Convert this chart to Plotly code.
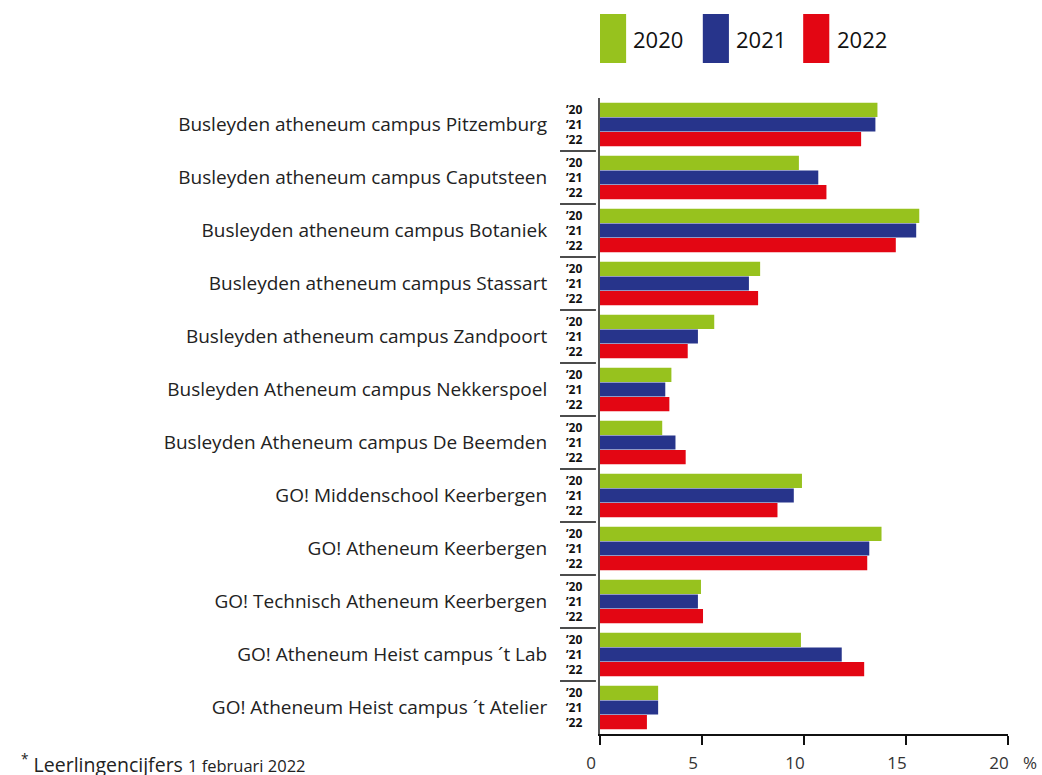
import plotly.graph_objects as go

schools = [
    "Busleyden atheneum campus Pitzemburg",
    "Busleyden atheneum campus Caputsteen",
    "Busleyden atheneum campus Botaniek",
    "Busleyden atheneum campus Stassart",
    "Busleyden atheneum campus Zandpoort",
    "Busleyden Atheneum campus Nekkerspoel",
    "Busleyden Atheneum campus De Beemden",
    "GO! Middenschool Keerbergen",
    "GO! Atheneum Keerbergen",
    "GO! Technisch Atheneum Keerbergen",
    "GO! Atheneum Heist campus ´t Lab",
    "GO! Atheneum Heist campus ´t Atelier",
]
years = ["2020", "2021", "2022"]
short_years = ["’20", "’21", "’22"]
v2020 = [13.6, 9.75, 15.65, 7.85, 5.6, 3.5, 3.05, 9.9, 13.8, 4.95, 9.85, 2.85]
v2021 = [13.5, 10.7, 15.5, 7.3, 4.8, 3.2, 3.7, 9.5, 13.2, 4.8, 11.85, 2.85]
v2022 = [12.8, 11.1, 14.5, 7.75, 4.3, 3.4, 4.2, 8.7, 13.1, 5.05, 12.95, 2.3]
colors = ["#97C21E", "#27348B", "#E30613"]
x_ticks = [0, 5, 10, 15, 20]

FONT = "Open Sans"
idx = list(range(len(schools)))

fig = go.Figure()
for name, vals, col in zip(years, [v2020, v2021, v2022], colors):
    fig.add_trace(go.Bar(y=idx, x=vals, orientation="h", name=name,
                         marker=dict(color=col, line=dict(width=0)),
                         showlegend=False))

bargap = 0.17
bw = (1 - bargap) / 3
annotations = []
shapes = []
for i in idx:
    for k, sy in enumerate(short_years):
        annotations.append(dict(x=-0.039, xref="paper", y=i + (k - 1) * bw, yref="y",
                                text="<b>" + sy + "</b>", showarrow=False,
                                xanchor="right", yanchor="middle",
                                font=dict(family=FONT, size=12, color="#111")))
    if i < len(schools) - 1:
        shapes.append(dict(type="line", xref="paper", yref="y",
                           x0=-0.098, x1=-0.01, y0=i + 0.5, y1=i + 0.5,
                           line=dict(color="#111", width=1.5)))

# custom legend
leg_x = [0.0, 0.252, 0.498]
for lx, col, yr in zip(leg_x, colors, years):
    shapes.append(dict(type="rect", xref="paper", yref="paper",
                       x0=lx, x1=lx + 0.064, y0=1.055, y1=1.132,
                       fillcolor=col, line=dict(width=0)))
    annotations.append(dict(x=lx + 0.077, xref="paper", y=1.093, yref="paper",
                            text=yr, showarrow=False, xanchor="left", yanchor="middle",
                            font=dict(family=FONT, size=22, color="#111")))

annotations.append(dict(x=1.054, xref="paper", y=-0.045, yref="paper", text="%",
                        showarrow=False, xanchor="center", yanchor="middle",
                        font=dict(family=FONT, size=17, color="#333")))
annotations.append(dict(x=-1.424, xref="paper", y=-0.046, yref="paper",
                        text="<sup style='font-size:10px'>*</sup> Leerlingencijfers <span style='font-size:16.5px'>1 februari 2022</span>",
                        showarrow=False, xanchor="left", yanchor="middle",
                        font=dict(family=FONT, size=19.5, color="#222")))

fig.update_layout(
    width=1042, height=775,
    margin=dict(l=600, r=34, t=98, b=41, autoexpand=False),
    paper_bgcolor="white", plot_bgcolor="white",
    barmode="group", bargap=bargap, bargroupgap=0.04,
    font=dict(family=FONT, color="#222"),
    xaxis=dict(range=[0, 20], tickvals=x_ticks, ticktext=[str(t) for t in x_ticks],
               automargin=False,
               showgrid=False, zeroline=False, showline=True, linecolor="#111",
               linewidth=1.5, ticks="outside", ticklen=9, tickwidth=1.5, tickcolor="#111",
               tickfont=dict(family=FONT, size=17, color="#333"),
               ticklabelshift=-9, ticklabelstandoff=4),
    yaxis=dict(range=[len(schools) - 0.5, -0.5], tickvals=idx, ticktext=schools,
               automargin=False,
               showgrid=False, zeroline=False, showline=True, linecolor="#555",
               linewidth=2, ticks="", ticklabelstandoff=47,
               tickfont=dict(family=FONT, size=19, color="#222")),
    shapes=shapes, annotations=annotations,
)
fig.write_html("out.html", config={"displayModeBar": False},
               post_script="document.body.style.margin='0';document.body.style.overflow='hidden';")
